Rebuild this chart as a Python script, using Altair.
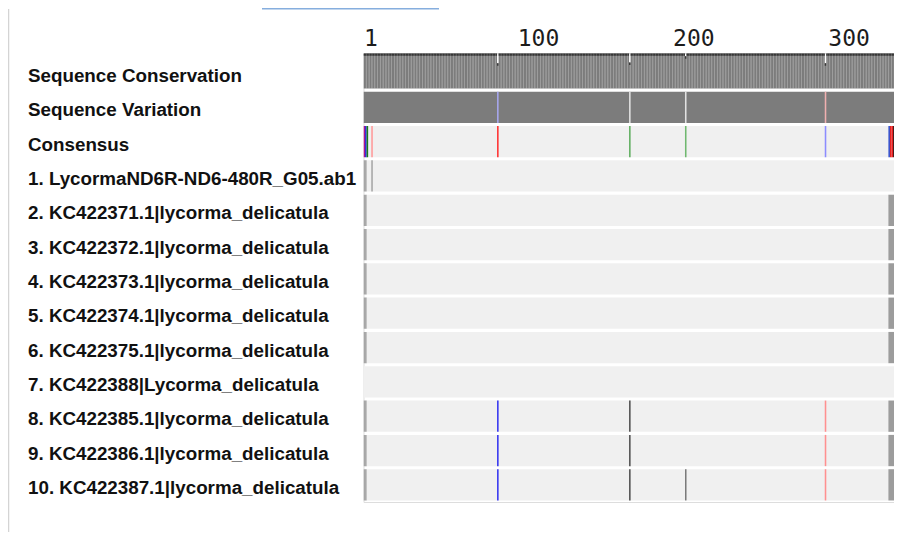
import altair as alt
import pandas as pd

# ---------------- data ----------------
row_labels = [
    "Sequence Conservation",
    "Sequence Variation",
    "Consensus",
    "1. LycormaND6R-ND6-480R_G05.ab1",
    "2. KC422371.1|lycorma_delicatula",
    "3. KC422372.1|lycorma_delicatula",
    "4. KC422373.1|lycorma_delicatula",
    "5. KC422374.1|lycorma_delicatula",
    "6. KC422375.1|lycorma_delicatula",
    "7. KC422388|Lycorma_delicatula",
    "8. KC422385.1|lycorma_delicatula",
    "9. KC422386.1|lycorma_delicatula",
    "10. KC422387.1|lycorma_delicatula",
]

alignment_length = 347
ruler_ticks = [1, 100, 200, 300]

# variable alignment columns
variable_cols = [87, 172, 208, 298]
conservation_at_variable = [0.72, 0.74, 0.92, 0.72]
variation_colors = ["#a8a8f0", "#e2e2e2", "#e2e2e2", "#f0b0b0"]

# consensus coloured columns
consensus_cols = [1, 2, 3, 6, 87, 172, 208, 298, 339, 340, 341, 342, 343, 344, 345, 346, 347]
consensus_colors = ["#b0128c", "#2a2ad8", "#1a7a1a", "#ff9a9a", "#ff3030", "#5fae5f",
                    "#6fb86f", "#8c8cff", "#3050d0", "#e82020", "#e82020", "#3a1010",
                    "#1f8a1f", "#1f8a1f", "#106010", "#106010", "#106010"]

# per sequence: gray (gap/ambiguous) columns at start, tail block start, differing columns
seq_gray_cols = [[1, 2, 6], [1, 2], [1, 2], [1, 2], [1, 2], [1, 2], [], [1, 2], [1, 2], [1, 2]]
seq_tail_start = [0, 339, 339, 339, 339, 339, 0, 339, 339, 339]
seq_diff_cols = [[], [], [], [], [], [], [],
                 [87, 172, 298], [87, 172, 298], [87, 172, 208, 298]]
seq_diff_colors = [[], [], [], [], [], [], [],
                   ["#3434f0", "#505050", "#ff9090"],
                   ["#3434f0", "#505050", "#ff9090"],
                   ["#3434f0", "#505050", "#7a7a7a", "#ff9090"]]

# ---------------- build rects ----------------
TOP, BOT = 0.045, 0.955
BAR_FULL = 1.025
CAP = 0.07
rects = []


def add(x, x2, y, y2, color):
    rects.append(dict(x=x, x2=x2, y=y, y2=y2, color=color))


# conservation bars (row 0)
cons_lookup = dict(zip(variable_cols, conservation_at_variable))
for c in range(1, alignment_length + 1):
    v = cons_lookup.get(c, 1.0)
    top = BOT - v * BAR_FULL
    add(c, c + 1, top, BOT, "#7c7c7c")
    add(c, c + 1, top, top + CAP, "#363636")

# variation row (row 1)
add(1, alignment_length + 1, 1 + TOP, 1 + BOT, "#7c7c7c")
for c, col in zip(variable_cols, variation_colors):
    add(c, c + 1, 1 + TOP, 1 + BOT, col)

# consensus row (row 2)
add(1, alignment_length + 1, 2 + TOP, 2 + BOT, "#f0f0f0")
for c, col in zip(consensus_cols, consensus_colors):
    add(c, c + 1, 2 + TOP, 2 + BOT, col)

# sequences (rows 3..12)
for i in range(10):
    r = 3 + i
    add(1, alignment_length + 1, r + TOP, r + BOT, "#f0f0f0")
    for c in seq_gray_cols[i]:
        add(c, c + 1, r + TOP, r + BOT, "#a6a6a6")
    if seq_tail_start[i]:
        add(seq_tail_start[i], alignment_length + 1, r + TOP, r + BOT, "#9c9c9c")
    for c, col in zip(seq_diff_cols[i], seq_diff_colors[i]):
        add(c, c + 1, r + TOP, r + BOT, col)

df = pd.DataFrame(rects)
labels_df = pd.DataFrame({"label": row_labels, "y": [r + 0.5 for r in range(len(row_labels))]})

# ---------------- chart ----------------
PX_PER_COL = 1.553
PLOT_W = 530.5
PLOT_H = 449
x_end = 1 + PLOT_W / PX_PER_COL
xscale = alt.Scale(domain=[1, x_end], nice=False, zero=False)
yscale = alt.Scale(domain=[-0.082, 13], reverse=True, nice=False, zero=False)

cells = alt.Chart(df).mark_rect(clip=True, strokeWidth=0).encode(
    x=alt.X("x:Q", scale=xscale, title=None,
            axis=alt.Axis(orient="top", values=ruler_ticks, domain=False, ticks=False,
                          grid=False, labelFont="DejaVu Sans Mono", labelFontSize=23,
                          labelColor="#1c1c1c", labelAlign="left", labelBaseline="alphabetic",
                          labelPadding=7.5, labelFlush=False, labelOverlap=False)),
    x2="x2:Q",
    y=alt.Y("y:Q", scale=yscale, axis=None),
    y2="y2:Q",
    color=alt.Color("color:N", scale=None),
)

texts = alt.Chart(labels_df).mark_text(
    align="left", baseline="middle", dy=3, font="Liberation Sans", fontWeight="bold",
    fontSize=18.8, color="#111111"
).encode(
    x=alt.value(-335.5),
    y=alt.Y("y:Q", scale=yscale, axis=None),
    text="label:N",
)

deco = pd.DataFrame({"k": [0]})
left_line = alt.Chart(deco).mark_rule(color="#d4d4d4", strokeWidth=1.5).encode(
    x=alt.value(-355), y=alt.value(-44), y2=alt.value(479))
top_line = alt.Chart(deco).mark_rule(color="#86aede", strokeWidth=2).encode(
    x=alt.value(-101.5), x2=alt.value(75.5), y=alt.value(-44.5))

chart = alt.layer(cells, texts, left_line, top_line).properties(
    width=PLOT_W, height=PLOT_H,
    autosize=alt.AutoSizeParams(type="none"),
    padding={"left": 355.5, "top": 45, "right": 0, "bottom": 30},
).configure_view(stroke=None).configure(background="white")

chart.save("out.html", embed_options={"renderer": "svg", "actions": False})
